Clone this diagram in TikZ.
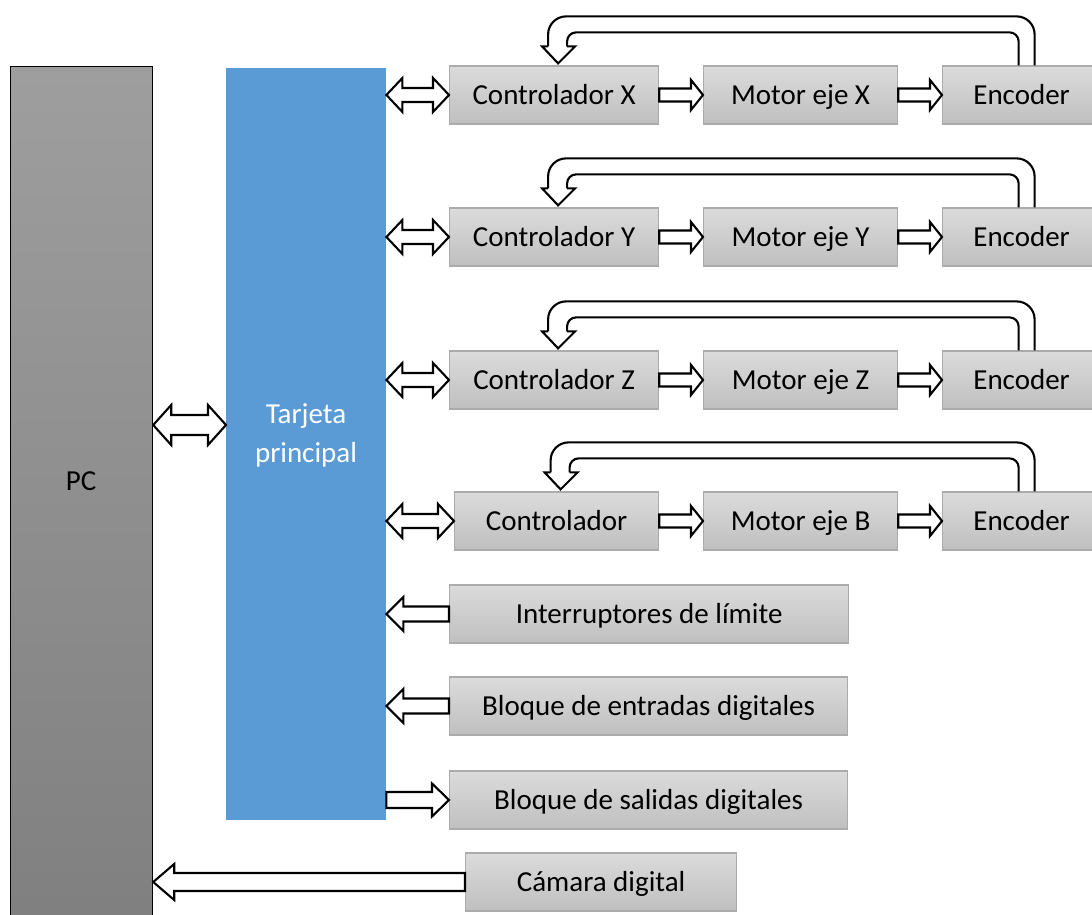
\documentclass[tikz,border=0pt]{standalone}
\usepackage{fontspec}
\setmainfont{Carlito}
\usetikzlibrary{calc}
\definecolor{boardblue}{HTML}{5B9BD5}
\tikzset{
  blk/.style={draw=black!33, line width=1.2pt, top color=black!14, bottom color=black!25,
              minimum height=58pt, inner sep=0pt, text height=25pt, text depth=6pt, anchor=west},
  fat/.style={draw=black, line width=2.1pt, fill=white, line join=miter},
  fatline/.style={draw=black, line width=2.1pt}
}

% block arrow, one head: tail, tip, half shaft, half head, head length
\newcommand\fatarrow[5]{%
  \draw[fat] let \p1=(#1), \p2=(#2), \n1={sign(\x2-\x1)} in
    (\x1,\y2+#3) -- (\x2-\n1*#5,\y2+#3) -- (\x2-\n1*#5,\y2+#4) -- (\x2,\y2)
    -- (\x2-\n1*#5,\y2-#4) -- (\x2-\n1*#5,\y2-#3) -- (\x1,\y2-#3) -- cycle;}

% block arrow, two heads: left end, right end, half shaft, half head, head length
\newcommand\fatboth[5]{%
  \draw[fat] let \p1=(#1), \p2=(#2) in
    (\x1,\y1) -- (\x1+#5,\y1+#4) -- (\x1+#5,\y1+#3) -- (\x2-#5,\y1+#3) -- (\x2-#5,\y1+#4)
    -- (\x2,\y1) -- (\x2-#5,\y1-#4) -- (\x2-#5,\y1-#3) -- (\x1+#5,\y1-#3) -- (\x1+#5,\y1-#4) -- cycle;}

% encoder -> controller feedback, bent block arrow over the row
\newcommand\feedback[2]{%
  \path let \p1=(#1.north), \p2=(#2.north) in
    (\x1+5,\y1) coordinate (fbR) (\x2+4,\y2) coordinate (fbL);
  \draw[fatline, rounded corners=18pt] ($(fbR)+(8,0)$) -- ++(0,49) -| ($(fbL)+(-10,19)$);
  \draw[fatline, rounded corners=9pt] ($(fbR)+(-8,0)$) -- ++(0,33) -| ($(fbL)+(9,19)$);
  \draw[fatline, line join=miter] ($(fbL)+(-10,19)$) -- ++(-6,0) -- ($(fbL)+(0,2)$)
    -- ($(fbL)+(17,19)$) -- ++(-8,0);}

\begin{document}
\begin{tikzpicture}[x=1pt, y=1pt, font=\fontsize{29}{39}\selectfont]
  \useasboundingbox (0,0) rectangle (1092,915);

  % ---------- PC and main board ----------
  \node[draw=black, line width=1.2pt, top color=black!38, bottom color=black!50,
        minimum width=142pt, minimum height=859pt, anchor=north west, inner sep=0pt] (pc) at (10,849) {};
  \node (pctxt) at (81,434) {PC};
  \node[fill=boardblue, minimum width=160pt, minimum height=752pt, anchor=north west, inner sep=0pt] (tarjeta) at (226,847) {};
  \node[text=white, align=center] (tarjetatxt) at (306,480) {Tarjeta\\principal};

  \coordinate (link) at (190,490);
  \fatboth{pc.east |- link}{tarjeta.west |- link}{10}{20}{18}

  % ---------- axis X ----------
  \node[blk, minimum width=209pt] (ctrlX) at (449,820) {Controlador X};
  \node[blk, minimum width=194pt] (motX) at (703,820) {Motor eje X};
  \node[blk, minimum width=158pt] (encX) at (942,820) {Encoder};
  \fatboth{tarjeta.east |- ctrlX.west}{ctrlX.west}{7}{17}{16}
  \fatarrow{ctrlX.east}{motX.west}{6.5}{15}{12}
  \fatarrow{motX.east}{encX.west}{6.5}{15}{12}
  \feedback{encX}{ctrlX}

  % ---------- axis Y ----------
  \node[blk, minimum width=209pt] (ctrlY) at (449,678) {Controlador Y};
  \node[blk, minimum width=194pt] (motY) at (703,678) {Motor eje Y};
  \node[blk, minimum width=158pt] (encY) at (942,678) {Encoder};
  \fatboth{tarjeta.east |- ctrlY.west}{ctrlY.west}{7}{17}{16}
  \fatarrow{ctrlY.east}{motY.west}{6.5}{15}{12}
  \fatarrow{motY.east}{encY.west}{6.5}{15}{12}
  \feedback{encY}{ctrlY}

  % ---------- axis Z ----------
  \node[blk, minimum width=209pt] (ctrlZ) at (449,535) {Controlador Z};
  \node[blk, minimum width=194pt] (motZ) at (703,535) {Motor eje Z};
  \node[blk, minimum width=158pt] (encZ) at (942,535) {Encoder};
  \fatboth{tarjeta.east |- ctrlZ.west}{ctrlZ.west}{7}{17}{16}
  \fatarrow{ctrlZ.east}{motZ.west}{6.5}{15}{12}
  \fatarrow{motZ.east}{encZ.west}{6.5}{15}{12}
  \feedback{encZ}{ctrlZ}

  % ---------- axis B ----------
  \node[blk, minimum width=204pt] (ctrlB) at (454,394) {Controlador};
  \node[blk, minimum width=194pt] (motB) at (703,394) {Motor eje B};
  \node[blk, minimum width=158pt] (encB) at (942,394) {Encoder};
  \fatboth{tarjeta.east |- ctrlB.west}{ctrlB.west}{7}{17}{16}
  \fatarrow{ctrlB.east}{motB.west}{6.5}{15}{12}
  \fatarrow{motB.east}{encB.west}{6.5}{15}{12}
  \feedback{encB}{ctrlB}

  % ---------- digital I/O ----------
  \node[blk, minimum width=399pt] (limits) at (449,301) {Interruptores de límite};
  \node[blk, minimum width=398pt] (dins) at (449,209) {Bloque de entradas digitales};
  \node[blk, minimum width=398pt] (douts) at (449,115) {Bloque de salidas digitales};
  \fatarrow{limits.west}{tarjeta.east |- limits.west}{7.5}{17}{17}
  \fatarrow{dins.west}{tarjeta.east |- dins.west}{7.5}{17}{17}
  \fatarrow{tarjeta.east |- douts.west}{douts.west}{8}{16.5}{17}

  % ---------- camera straight to the PC ----------
  \node[blk, minimum width=271pt] (cam) at (465,33) {Cámara digital};
  \fatarrow{cam.west}{pc.east |- cam.west}{9}{18}{21}

\end{tikzpicture}
\end{document}
